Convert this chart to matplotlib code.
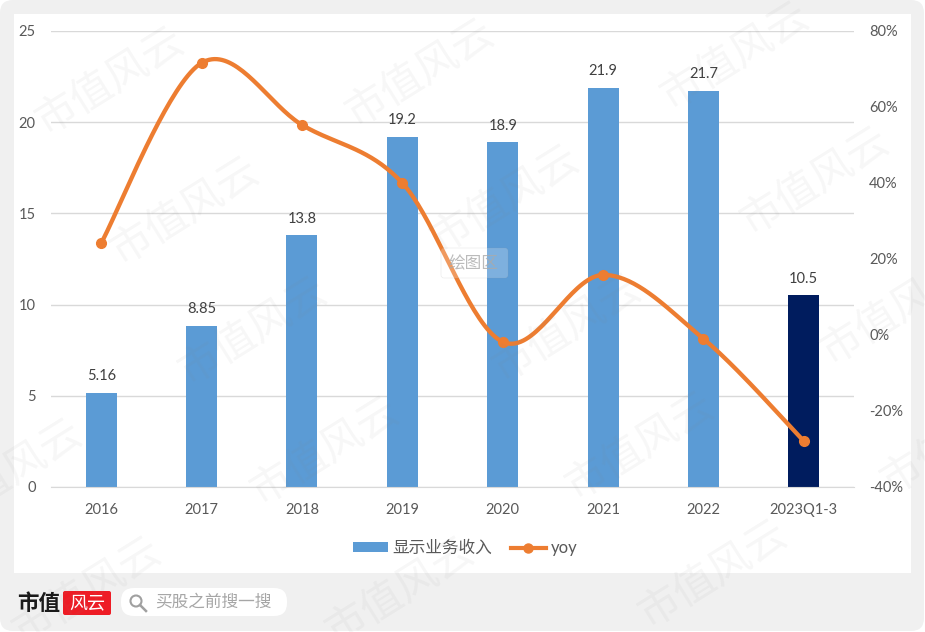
import numpy as np
import matplotlib
matplotlib.use("Agg")
import matplotlib.pyplot as plt
from matplotlib.patches import FancyBboxPatch, Rectangle, Circle
from matplotlib.lines import Line2D

plt.rcParams['font.family'] = ['Lato', 'Noto Sans CJK SC', 'DejaVu Sans']

categories = ['2016', '2017', '2018', '2019', '2020', '2021', '2022', '2023Q1-3']
revenue = [5.16, 8.85, 13.8, 19.2, 18.9, 21.9, 21.7, 10.5]
revenue_labels = ['5.16', '8.85', '13.8', '19.2', '18.9', '21.9', '21.7', '10.5']
yoy = [24.2, 71.6, 55.3, 40.0, -1.8, 15.8, -1.0, -27.9]
left_ticks = [0, 5, 10, 15, 20, 25]
right_ticks = [-40, -20, 0, 20, 40, 60, 80]

W, H = 925, 632
BLUE, NAVY, ORANGE = '#5b9bd5', '#001c5e', '#ed7d31'
TXT = '#595959'

fig = plt.figure(figsize=(W / 100, H / 100), dpi=100, facecolor='white')


def rect(l, t, r, b):
    return [l / W, 1 - b / H, (r - l) / W, (b - t) / H]


# page furniture, in pixel coordinates
bg = fig.add_axes([0, 0, 1, 1], zorder=0)
bg.set_xlim(0, W)
bg.set_ylim(H, 0)
bg.axis('off')
bg.add_patch(FancyBboxPatch((0, 0), W - 1, H - 1, boxstyle='round,pad=0,rounding_size=13',
                            fc='#f0f0f0', ec='none'))
bg.add_patch(Rectangle((14, 14), 897, 559, fc='white', ec='none'))

# main chart
ax = fig.add_axes(rect(51, 31, 854, 487), zorder=2)
ax.patch.set_alpha(0)
x = np.arange(len(categories))
colors = [BLUE] * 7 + [NAVY]
bars = ax.bar(x, revenue, width=0.31, color=colors, zorder=2, label='显示业务收入')
ax.set_xlim(-0.5, 7.5)
ax.set_ylim(0, 25)
ax.set_yticks(left_ticks)
ax.set_xticks(x, categories)
ax.grid(axis='y', color='#d9d9d9', lw=1)
ax.set_axisbelow(True)
ax.tick_params(length=0, labelsize=10.5, labelcolor=TXT)
ax.tick_params(axis='x', pad=11.5)
ax.tick_params(axis='y', pad=11)
for s in ax.spines.values():
    s.set_visible(False)
ax.spines['bottom'].set_visible(True)
ax.spines['bottom'].set_color('#d9d9d9')
for xi, v, lab in zip(x, revenue, revenue_labels):
    ax.annotate(lab, (xi, v), xytext=(0, 7), textcoords='offset points', ha='center',
                va='bottom', fontsize=10.5, color='#404040')

ax2 = ax.twinx()
ax2.patch.set_alpha(0)
ax2.set_ylim(-40, 80)
ax2.set_yticks(right_ticks, [f'{t}%' for t in right_ticks])
ax2.tick_params(length=0, labelsize=10.5, labelcolor=TXT, pad=11)
for s in ax2.spines.values():
    s.set_visible(False)

# smoothed line through the yoy points (spreadsheet-style cubic segments)
ya = np.array(yoy, dtype=float)
n = len(ya)
cx, cy = [], []
for i in range(n - 1):
    p0 = np.array([x[max(i - 1, 0)], ya[max(i - 1, 0)]], dtype=float)
    p1 = np.array([x[i], ya[i]], dtype=float)
    p2 = np.array([x[i + 1], ya[i + 1]], dtype=float)
    p3 = np.array([x[min(i + 2, n - 1)], ya[min(i + 2, n - 1)]], dtype=float)
    c1 = p1 + (p2 - p0) / 6
    c2 = p2 - (p3 - p1) / 6
    for t in np.linspace(0, 1, 40):
        q = (1 - t) ** 3 * p1 + 3 * (1 - t) ** 2 * t * c1 + 3 * (1 - t) * t ** 2 * c2 + t ** 3 * p2
        cx.append(q[0])
        cy.append(q[1])
ax2.plot(cx, cy, color=ORANGE, lw=3.1, solid_capstyle='round', zorder=3)
ax2.plot(x, ya, ls='none', marker='o', ms=7, color=ORANGE, zorder=4)

# legend
handles = [bars[0], Line2D([], [], color=ORANGE, lw=3, marker='o', ms=6.5)]
leg = fig.legend(handles, ['显示业务收入', 'yoy'], loc='center', ncol=2,
                 bbox_to_anchor=(465 / W, 1 - 548 / H), frameon=False, fontsize=12,
                 labelcolor=TXT, handlelength=2.1, handleheight=0.55,
                 handletextpad=0.3, columnspacing=1.1)

# overlay: watermark, tooltip, logo row
fg = fig.add_axes([0, 0, 1, 1], zorder=5)
fg.set_xlim(0, W)
fg.set_ylim(H, 0)
fg.axis('off')
fg.patch.set_alpha(0)

marks = [(110, 80), (420, 72), (735, 55), (185, 210), (505, 198), (815, 180),
         (253, 330), (567, 327), (895, 310), (8, 472), (325, 450), (640, 445),
         (955, 440), (87, 590), (400, 590), (713, 573)]
for mx, my in marks:
    fg.text(mx, my, '市值风云', rotation=32, ha='center', va='center', fontsize=30,
            color='#888888', alpha=0.07, rotation_mode='anchor', clip_on=True)

fg.add_patch(FancyBboxPatch((441, 248), 67, 30, boxstyle='round,pad=0,rounding_size=3',
                            fc='white', ec='#999999', lw=0.4, alpha=0.22))
fg.text(473, 263, '绘图区', ha='center', va='center', fontsize=12, color='#aaaaaa', alpha=0.8)

fg.text(17, 603, '市值', ha='left', va='center', fontsize=15.5, fontweight='bold', color='#1a1a1a')
fg.add_patch(FancyBboxPatch((63, 591), 48, 24, boxstyle='round,pad=0,rounding_size=2',
                            fc='#ee1c25', ec='none'))
fg.text(87, 603, '风云', ha='center', va='center', fontsize=13, color='white')
fg.add_patch(FancyBboxPatch((121, 588), 166, 28, boxstyle='round,pad=0,rounding_size=13',
                            fc='white', ec='none'))
fg.add_patch(Circle((136, 601), 5.5, fc='none', ec='#a0a0a0', lw=1.5))
fg.add_line(Line2D([140, 146], [605, 611], color='#a0a0a0', lw=1.8))
fg.text(155, 602, '买股之前搜一搜', ha='left', va='center', fontsize=12, color='#a6a6a6')

fig.savefig('out.png', dpi=100, facecolor='white')
